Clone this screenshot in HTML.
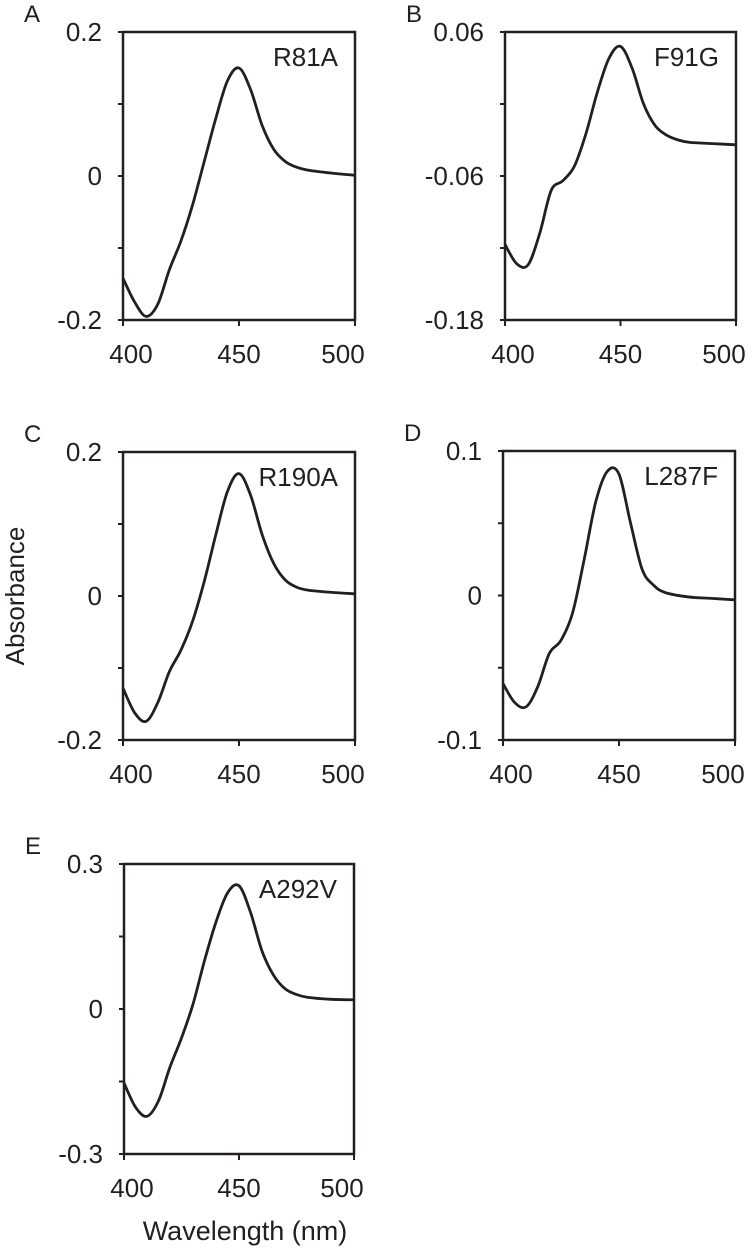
<!DOCTYPE html>
<html><head><meta charset="utf-8"><style>
body{margin:0;background:#fff}
svg text{font-family:"Liberation Sans",Arial,sans-serif;fill:#231f20}
</style></head><body>
<svg id="fig" width="750" height="1251" viewBox="0 0 750 1251" xmlns="http://www.w3.org/2000/svg"></svg>
<script>
// Panel data (wavelength nm, absorbance)
const wlA=[400,405,410,415,420,425,430,435,440,445,450,455,460,465,470,475,480,490,500];
const absA=[-0.142,-0.175,-0.195,-0.178,-0.13,-0.09,-0.04,0.02,0.08,0.132,0.15,0.12,0.07,0.037,0.02,0.012,0.008,0.004,0.001];
const wlB=[400,405,410,415,420,425,430,435,440,445,450,455,460,465,470,475,480,490,500];
const absB=[-0.117,-0.133,-0.134,-0.108,-0.072,-0.064,-0.052,-0.025,0.01,0.038,0.048,0.03,0.0,-0.018,-0.026,-0.03,-0.032,-0.033,-0.034];
const wlC=[400,405,410,415,420,425,430,435,440,445,450,455,460,465,470,475,480,490,500];
const absC=[-0.128,-0.162,-0.174,-0.148,-0.105,-0.075,-0.035,0.02,0.085,0.145,0.17,0.14,0.085,0.045,0.022,0.012,0.008,0.005,0.003];
const wlD=[400,405,410,415,420,425,430,435,440,445,450,455,460,465,470,480,490,500];
const absD=[-0.061,-0.074,-0.077,-0.063,-0.04,-0.031,-0.012,0.025,0.065,0.086,0.084,0.05,0.018,0.007,0.002,-0.001,-0.002,-0.003];
const wlE=[400,405,410,415,420,425,430,435,440,445,450,455,460,465,470,475,480,490,500];
const absE=[-0.153,-0.203,-0.222,-0.19,-0.12,-0.06,0.01,0.1,0.18,0.24,0.255,0.2,0.12,0.07,0.042,0.03,0.024,0.02,0.019];
const yTicksA=[-0.2,-0.1,0,0.1,0.2], yLabA=["-0.2","","0","","0.2"];
const yTicksB=[-0.18,-0.12,-0.06,0,0.06], yLabB=["-0.18","","-0.06","","0.06"];
const yTicksC=[-0.2,-0.1,0,0.1,0.2], yLabC=["-0.2","","0","","0.2"];
const yTicksD=[-0.1,-0.05,0,0.05,0.1], yLabD=["-0.1","","0","","0.1"];
const yTicksE=[-0.3,-0.15,0,0.15,0.3], yLabE=["-0.3","","0","","0.3"];
const xTicks=[400,450,500];
const panels=[
 {id:"a",letter:"A",name:"R81A",L:123,T:32,R:355,B:320,wl:wlA,ab:absA,yt:yTicksA,yl:yLabA},
 {id:"b",letter:"B",name:"F91G",L:505,T:32,R:736,B:320,wl:wlB,ab:absB,yt:yTicksB,yl:yLabB},
 {id:"c",letter:"C",name:"R190A",L:123,T:452,R:355,B:740,wl:wlC,ab:absC,yt:yTicksC,yl:yLabC},
 {id:"d",letter:"D",name:"L287F",L:503,T:451,R:735,B:740,wl:wlD,ab:absD,yt:yTicksD,yl:yLabD},
 {id:"e",letter:"E",name:"A292V",L:124,T:864,R:354,B:1154,wl:wlE,ab:absE,yt:yTicksE,yl:yLabE}
];
const xLabOff=[8,0,-12];
const NS="http://www.w3.org/2000/svg";
const svg=document.getElementById('fig');
function mk(tag,attrs,parent){const e=document.createElementNS(NS,tag);for(const k in attrs)e.setAttribute(k,attrs[k]);(parent||svg).appendChild(e);return e;}
function smooth(pts){let d="M"+pts[0][0]+","+pts[0][1];for(let i=0;i<pts.length-1;i++){const p0=pts[i-1]||pts[i],p1=pts[i],p2=pts[i+1],p3=pts[i+2]||p2;const c1=[p1[0]+(p2[0]-p0[0])/6,p1[1]+(p2[1]-p0[1])/6],c2=[p2[0]-(p3[0]-p1[0])/6,p2[1]-(p3[1]-p1[1])/6];d+=" C"+c1[0].toFixed(2)+","+c1[1].toFixed(2)+" "+c2[0].toFixed(2)+","+c2[1].toFixed(2)+" "+p2[0].toFixed(2)+","+p2[1].toFixed(2);}return d;}
panels.forEach(p=>{
 const g=mk('g',{});
 
 
 const y0=p.yt[0],y1=p.yt[p.yt.length-1];
 const xs=v=>p.L+(v-400)/100*(p.R-p.L);
 const ys=v=>p.B-(v-y0)/(y1-y0)*(p.B-p.T);
 const frame=mk('rect',{x:p.L,y:p.T,width:p.R-p.L,height:p.B-p.T,fill:"none",stroke:"#231f20","stroke-width":2.5},g);
 
 
 p.yt.forEach((v,i)=>{
  const t=mk('line',{x1:p.L-5,x2:p.L,y1:ys(v),y2:ys(v),stroke:"#231f20","stroke-width":2},g);
  
  
  if(p.yl[i]){const tx=mk('text',{x:p.L-21,y:ys(v)+9,"text-anchor":"end","font-size":26},g);tx.textContent=p.yl[i];
  
  }
 });
 xTicks.forEach((v,i)=>{
  const t=mk('line',{x1:xs(v),x2:xs(v),y1:p.B,y2:p.B+6,stroke:"#231f20","stroke-width":2},g);
  
  
  const tx=mk('text',{x:xs(v)+xLabOff[i],y:p.B+43,"text-anchor":"middle","font-size":26},g);tx.textContent=v;
  
  
 });
 const pts=p.wl.map((w,i)=>[xs(w),ys(p.ab[i])]);
 const path=mk('path',{d:smooth(pts),fill:"none",stroke:"#231f20","stroke-width":2.8,"stroke-linejoin":"round"},g);
 
 
 const nm=mk('text',{x:p.R-17,y:p.T+34,"text-anchor":"end","font-size":26},g);nm.textContent=p.name;
 
 
 const lt=mk('text',{x:p.L-99,y:p.T-10,"font-size":24},g);lt.textContent=p.letter;
 
 
});
const yl=mk('text',{x:0,y:0,"font-size":26,"text-anchor":"middle",transform:"translate(24,596) rotate(-90)"});
yl.textContent="Absorbance";


const xl=mk('text',{x:245,y:1240,"font-size":27,"text-anchor":"middle"});
xl.textContent="Wavelength (nm)";


</script>
</body></html>
